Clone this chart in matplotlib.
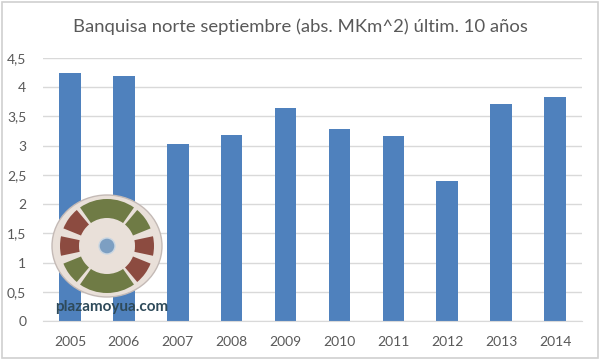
import matplotlib
matplotlib.use("Agg")
import matplotlib.pyplot as plt
from matplotlib.patches import Wedge, Circle, Ellipse, Rectangle

years = ["2005", "2006", "2007", "2008", "2009", "2010", "2011", "2012", "2013", "2014"]
extent = [4.25, 4.20, 3.03, 3.18, 3.65, 3.29, 3.17, 2.40, 3.72, 3.83]
yticks = [0, 0.5, 1, 1.5, 2, 2.5, 3, 3.5, 4, 4.5]
ytick_labels = ["0", "0,5", "1", "1,5", "2", "2,5", "3", "3,5", "4", "4,5"]
title = "Banquisa norte septiembre (abs. MKm^2) últim. 10 años"
watermark = "plazamoyua.com"

W, H = 600, 361
fig = plt.figure(figsize=(6, 3.61), dpi=100)
fig.patch.set_facecolor("white")
font = ["Lato", "DejaVu Sans"]
grey = "#595959"

ax = fig.add_axes([43 / W, 1 - 321 / H, (582 - 43) / W, (321 - 58) / H])
x = list(range(len(years)))
ax.bar(x, extent, width=0.4, color="#4f81bd", zorder=2)
ax.set_xlim(-0.5, len(years) - 0.5)
ax.set_ylim(0, 4.5)
ax.set_yticks(yticks)
ax.set_yticklabels(ytick_labels, fontfamily=font, fontsize=10, color=grey)
ax.set_xticks(x)
ax.set_xticklabels(years, fontfamily=font, fontsize=10, color=grey)
ax.tick_params(axis="both", length=0)
ax.tick_params(axis="x", pad=11)
ax.tick_params(axis="y", pad=12)
ax.grid(axis="y", color="#d9d9d9", linewidth=1, zorder=0)
for s in ["top", "right", "left"]:
    ax.spines[s].set_visible(False)
ax.spines["bottom"].set_color("#d9d9d9")
ax.set_axisbelow(True)

fig.text(0.5, 1 - 27 / H, title, ha="center", va="center",
         fontfamily=font, fontsize=13.3, color=grey)

# overlay in pixel coordinates for the watermark and border
ov = fig.add_axes([0, 0, 1, 1], zorder=5)
ov.set_xlim(0, W)
ov.set_ylim(H, 0)
ov.axis("off")
ov.patch.set_alpha(0)
ov.add_patch(Rectangle((1.5, 1.5), W - 4, H - 4.5, fill=False, edgecolor="#d0d0d0", linewidth=1.2))

cx, cy = 107, 246
ov.add_patch(Ellipse((cx, cy), 110, 102, facecolor="#e9e0d9", edgecolor="#c4bab6", linewidth=1.0))
green = "#6f7b45"
brown = "#8c4b40"
segs = [(55, 125, green), (22, 50, brown), (-12, 12, brown), (-50, -22, green),
        (-125, -55, green), (-158, -130, brown), (168, 192, brown), (130, 158, green)]
for a0, a1, c in segs:
    ov.add_patch(Wedge((cx, cy), 47, a0, a1, width=19, facecolor=c, edgecolor="none"))
ov.add_patch(Circle((cx, cy), 8, facecolor="#7d9fc2", edgecolor="#c9d6e2", linewidth=1))
ov.text(112, 307, watermark, ha="center", va="center", fontfamily=font,
        fontsize=11, fontweight="bold", color="#2e4a5a")

fig.savefig("out.png", dpi=100)
